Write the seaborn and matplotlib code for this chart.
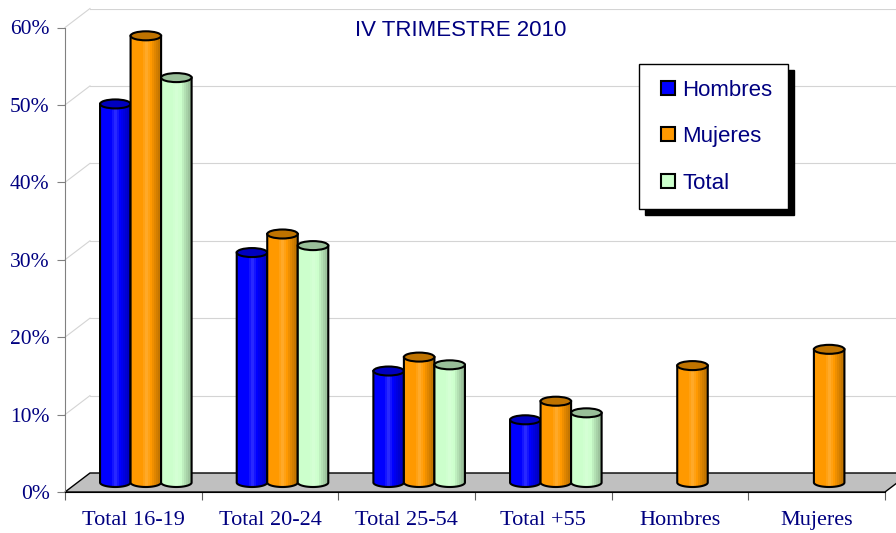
import numpy as np
import pandas as pd
import matplotlib
matplotlib.use('Agg')
from matplotlib import pyplot as plt
from matplotlib.colors import LinearSegmentedColormap, to_rgb
from matplotlib.patches import PathPatch, Ellipse, Polygon
from matplotlib.path import Path
from matplotlib.lines import Line2D
from matplotlib.transforms import IdentityTransform
from matplotlib.ticker import PercentFormatter, FixedLocator
import seaborn as sns

categories = ['Total 16-19', 'Total 20-24', 'Total 25-54', 'Total +55', 'Hombres', 'Mujeres']
series = ['Hombres', 'Mujeres', 'Total']
hombres = [0.489, 0.297, 0.144, 0.081, np.nan, np.nan]
mujeres = [0.577, 0.321, 0.162, 0.105, 0.151, 0.172]
total = [0.523, 0.306, 0.152, 0.090, np.nan, np.nan]
y_ticks = [0, 0.1, 0.2, 0.3, 0.4, 0.5, 0.6]
title = 'IV TRIMESTRE 2010'

colors = {'Hombres': '#0000FF', 'Mujeres': '#FF9900', 'Total': '#CCFFCC'}
navy = '#000080'
grid_color = '#d4d4d4'

plt.rcParams['font.family'] = 'Liberation Serif'

W, H = 896, 533
# front plane of the fake 3d box, in pixels
x_left, x_right = 65, 885
y_zero, y_top = 492, 27.5
depth_x, depth_y = 25, 19
ppu = (y_zero - y_top) / 0.6   # pixels per unit of value
below = 12                     # room under the bar plane for the round bottoms

fig = plt.figure(figsize=(W / 100, H / 100), dpi=100)


def plane(k, extra=0):
    dx, dy = depth_x * k, depth_y * k
    return [(x_left + dx) / W, (H - y_zero + dy - extra) / H,
            (x_right - x_left) / W, (y_zero - y_top + extra) / H]


ax_back = fig.add_axes(plane(1.0))
ax = fig.add_axes(plane(0.5, below))
ax_front = fig.add_axes(plane(0.0))

xlim = (-0.5, len(categories) - 0.5)
for a in (ax_back, ax, ax_front):
    a.set_xlim(*xlim)
    a.set_ylim(0, 0.6)
    a.patch.set_visible(False)
ax.set_ylim(-below / ppu, 0.6)

# back wall: gridlines, side wall diagonals and floor
ax_back.set_yticks(y_ticks)
ax_back.grid(axis='y', color=grid_color, lw=0.8)
ax_back.tick_params(left=False, labelleft=False, bottom=False, labelbottom=False)
for s in ax_back.spines.values():
    s.set_visible(False)


def px(a, x, y):
    return a.transData.transform((x, y))


for t in y_ticks[1:]:
    p0, p1 = px(ax_front, xlim[0], t), px(ax_back, xlim[0], t)
    ax_back.add_line(Line2D([p0[0], p1[0]], [p0[1], p1[1]], transform=IdentityTransform(),
                            color=grid_color, lw=0.8, clip_on=False))

floor = Polygon([px(ax_front, xlim[0], 0), px(ax_front, xlim[1], 0),
                 px(ax_back, xlim[1], 0), px(ax_back, xlim[0], 0)],
                closed=True, transform=IdentityTransform(), fc='#c0c0c0',
                ec='black', lw=1, clip_on=False, zorder=3)
ax_back.add_patch(floor)

# bars
df = pd.DataFrame({
    'categoria': categories * 3,
    'serie': np.repeat(series, len(categories)),
    'valor': hombres + mujeres + total,
})
sns.barplot(data=df, x='categoria', y='valor', hue='serie', order=categories,
            hue_order=series, palette=colors, width=0.67, saturation=1,
            legend=False, errorbar=None, ax=ax)
ax.set_axis_off()

# turn every bar into a cylinder
ey = 4.5 / ppu
for i, bar in enumerate(list(ax.patches)):
    h = bar.get_height()
    if not np.isfinite(h) or h <= 0:
        continue
    xb, w = bar.get_x(), bar.get_width()
    xc = xb + w / 2
    base = np.array(to_rgb(bar.get_facecolor()))
    bar.set_visible(False)
    theta = np.linspace(np.pi, 2 * np.pi, 40)
    verts = [(xb, h)] + [(xc + w / 2 * np.cos(t), ey * np.sin(t)) for t in theta] + [(xb + w, h), (xb, h)]
    body = Path(verts, closed=True)
    light = base + (1 - base) * 0.2
    cmap = LinearSegmentedColormap.from_list(
        'c%d' % i, [base, base, base, light, base, base * 0.85, base * 0.72], N=16)
    z = 2 + i * 0.1
    clip = PathPatch(body, transform=ax.transData)
    ax.imshow(np.linspace(0, 1, 16)[None, :], extent=(xb, xb + w, -ey, h), cmap=cmap,
              aspect='auto', interpolation='nearest', clip_path=clip, zorder=z)
    ax.add_patch(PathPatch(body, fc='none', ec='black', lw=1.5, zorder=z + 0.01))
    ax.add_patch(Ellipse((xc, h), w, 2 * ey, fc=base * 0.75, ec='black', lw=1.5,
                         zorder=z + 0.02, clip_on=False))
ax.set_xlim(*xlim)
ax.set_ylim(-below / ppu, 0.6)

# front axis: spines, ticks and labels
ax_front.spines[['top', 'right']].set_visible(False)
ax_front.spines['left'].set_color('#808080')
ax_front.spines['bottom'].set_color('black')
ax_front.yaxis.set_major_locator(FixedLocator(y_ticks))
ax_front.yaxis.set_major_formatter(PercentFormatter(1.0, decimals=0))
ax_front.set_xticks(np.arange(len(categories) + 1) - 0.5)
ax_front.set_xticklabels([])
ax_front.set_xticks(np.arange(len(categories)), minor=True)
ax_front.set_xticklabels(categories, minor=True)
ax_front.tick_params(axis='x', which='minor', length=0, pad=14, labelsize=16, labelcolor=navy)
ax_front.tick_params(axis='x', which='major', length=6, color='#606060')
ax_front.tick_params(axis='y', length=6, color='#808080', pad=5, labelsize=15.5, labelcolor=navy)

fig.text(461 / W, 1 - 30 / H, title, ha='center', va='center', color=navy,
         fontsize=16, family='Liberation Sans')

handles = [Line2D([], [], ls='none', marker='s', markersize=10.5, markerfacecolor=colors[s],
                  markeredgecolor='black', markeredgewidth=1.5) for s in series]
leg = fig.legend(handles, series, loc='upper left', bbox_to_anchor=(639 / W, 1 - 64 / H),
                 bbox_transform=fig.transFigure, borderaxespad=0, frameon=True,
                 fancybox=False, edgecolor='black', framealpha=1, borderpad=0.7,
                 labelspacing=1.15, handlelength=1.2, handletextpad=0.05,
                 prop={'family': 'Liberation Sans', 'size': 16}, labelcolor=navy,
                 shadow={'ox': 4, 'oy': -4, 'color': 'black', 'alpha': 1})
leg.get_frame().set_linewidth(1)

fig.savefig('out.png', dpi=100)
